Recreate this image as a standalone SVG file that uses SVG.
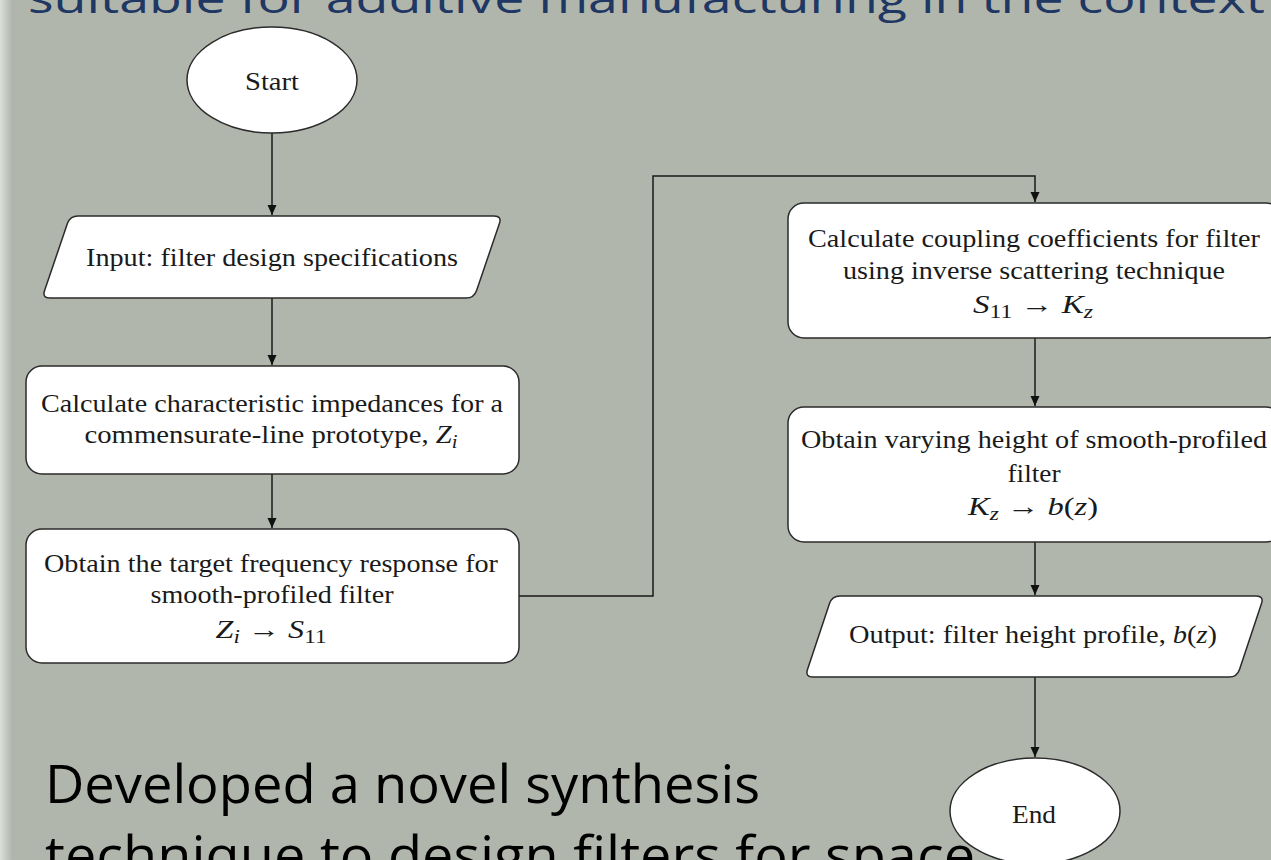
<svg xmlns="http://www.w3.org/2000/svg" width="1271" height="860" viewBox="0 0 1271 860">
<defs>
<linearGradient id="edge" x1="0" y1="0" x2="1" y2="0">
<stop offset="0" stop-color="#dde0d9"/>
<stop offset="1" stop-color="#b1b6ad"/>
</linearGradient>
<marker id="arr" markerUnits="userSpaceOnUse" markerWidth="10" markerHeight="10" refX="10" refY="4.5" orient="auto">
<path d="M0,0 L10,4.5 L0,9 Z" fill="#111"/>
</marker>
<style>
.bg{fill:#b1b6ad}
.node{fill:#ffffff;stroke:#2b2b2b;stroke-width:1.5}
.conn{fill:none;stroke:#1a1a1a;stroke-width:1.5}
.t{font-family:"Liberation Serif","Times New Roman",serif;font-size:25px;fill:#1a1a1a;text-anchor:middle}
.i{font-style:italic}
.sub{font-size:18px}
.title{font-family:"Open Sans","Liberation Sans",sans-serif;font-size:41px;fill:#1f3763}
.body{font-family:"Open Sans","Liberation Sans",sans-serif;font-size:53px;fill:#000000}
</style>
</defs>
<rect class="bg" x="0" y="0" width="1271" height="860"/>
<rect x="0" y="0" width="12" height="860" fill="url(#edge)"/>
<text class="title" x="28" y="13" textLength="1237" lengthAdjust="spacingAndGlyphs">suitable for additive manufacturing in the context</text>
<text class="body" x="45" y="803" textLength="715" lengthAdjust="spacingAndGlyphs">Developed a novel synthesis</text>
<text class="body" x="45" y="874" textLength="930" lengthAdjust="spacingAndGlyphs">technique to design filters for space</text>
<g id="connectors">
<path class="conn" d="M272,133 V215" marker-end="url(#arr)"/>
<path class="conn" d="M272,298 V365" marker-end="url(#arr)"/>
<path class="conn" d="M272,474 V528" marker-end="url(#arr)"/>
<path class="conn" d="M519,596 H653 V176 H1035 V202" marker-end="url(#arr)"/>
<path class="conn" d="M1035,338 V406" marker-end="url(#arr)"/>
<path class="conn" d="M1035,542 V595" marker-end="url(#arr)"/>
<path class="conn" d="M1035,677 V757" marker-end="url(#arr)"/>
</g>
<g id="start">
<ellipse class="node" cx="272" cy="80" rx="85" ry="53"/>
<text class="t" x="272" y="90" textLength="54" lengthAdjust="spacingAndGlyphs">Start</text>
</g>
<g id="input">
<path class="node" d="M78,216 L494,216 Q502,216 499.4,223.6 L476.6,290.4 Q474,298 466,298 L50,298 Q42,298 44.6,290.4 L67.4,223.6 Q70,216 78,216 Z"/>
<text class="t" x="272" y="266" textLength="372" lengthAdjust="spacingAndGlyphs">Input: filter design specifications</text>
</g>
<g id="impedances">
<rect class="node" x="26" y="366" width="493" height="108" rx="16"/>
<text class="t" x="272" y="412" textLength="462" lengthAdjust="spacingAndGlyphs">Calculate characteristic impedances for a</text>
<text class="t" x="271" y="443" textLength="373" lengthAdjust="spacingAndGlyphs">commensurate-line prototype, <tspan class="i">Z</tspan><tspan class="i sub" dy="5">i</tspan></text>
</g>
<g id="target">
<rect class="node" x="26" y="529" width="493" height="134" rx="16"/>
<text class="t" x="271" y="572" textLength="454" lengthAdjust="spacingAndGlyphs">Obtain the target frequency response for</text>
<text class="t" x="272" y="603" textLength="243" lengthAdjust="spacingAndGlyphs">smooth-profiled filter</text>
<text class="t" x="271" y="638" textLength="111" lengthAdjust="spacingAndGlyphs"><tspan class="i">Z</tspan><tspan class="i sub" dy="5">i</tspan><tspan dy="-5"> → </tspan><tspan class="i">S</tspan><tspan class="sub" dy="5">11</tspan></text>
</g>
<g id="coupling">
<rect class="node" x="788" y="203" width="494" height="135" rx="16"/>
<text class="t" x="1034" y="247" textLength="452" lengthAdjust="spacingAndGlyphs">Calculate coupling coefficients for filter</text>
<text class="t" x="1034" y="279" textLength="382" lengthAdjust="spacingAndGlyphs">using inverse scattering technique</text>
<text class="t" x="1033" y="313" textLength="120" lengthAdjust="spacingAndGlyphs"><tspan class="i">S</tspan><tspan class="sub" dy="5">11</tspan><tspan dy="-5"> → </tspan><tspan class="i">K</tspan><tspan class="i sub" dy="5">z</tspan></text>
</g>
<g id="height">
<rect class="node" x="788" y="407" width="494" height="135" rx="16"/>
<text class="t" x="1034" y="448" textLength="466" lengthAdjust="spacingAndGlyphs">Obtain varying height of smooth-profiled</text>
<text class="t" x="1034" y="482" textLength="53" lengthAdjust="spacingAndGlyphs">filter</text>
<text class="t" x="1033" y="515" textLength="130" lengthAdjust="spacingAndGlyphs"><tspan class="i">K</tspan><tspan class="i sub" dy="5">z</tspan><tspan dy="-5"> → </tspan><tspan class="i">b</tspan>(<tspan class="i">z</tspan>)</text>
</g>
<g id="output">
<path class="node" d="M840,596 L1256,596 Q1264,596 1261.5,603.6 L1239.5,669.4 Q1237,677 1229,677 L813,677 Q805,677 807.5,669.4 L829.5,603.6 Q832,596 840,596 Z"/>
<text class="t" x="1033" y="643" textLength="368" lengthAdjust="spacingAndGlyphs">Output: filter height profile, <tspan class="i">b</tspan>(<tspan class="i">z</tspan>)</text>
</g>
<g id="end">
<ellipse class="node" cx="1035" cy="811" rx="85" ry="53"/>
<text class="t" x="1034" y="823" textLength="44" lengthAdjust="spacingAndGlyphs">End</text>
</g>
</svg>
